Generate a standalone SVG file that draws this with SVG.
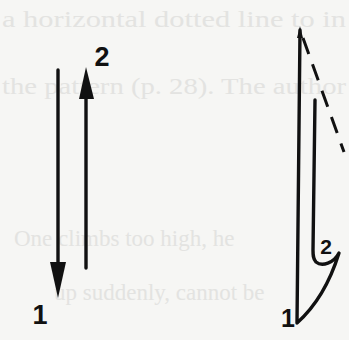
<svg xmlns="http://www.w3.org/2000/svg" width="349" height="340" viewBox="0 0 349 340">
  <style>
    .bg-text { font-family: "Liberation Serif", "Times New Roman", serif; font-size: 23px; fill: #e3e3e1; }
    .line { fill: none; stroke: #111; stroke-width: 3.4; stroke-linecap: round; stroke-linejoin: round; }
    .dash { fill: none; stroke: #111; stroke-width: 3; stroke-dasharray: 17 11; }
    .head { fill: #111; }
    .label { font-family: "Liberation Sans", Arial, sans-serif; font-weight: bold; fill: #111; }
  </style>
  <rect width="349" height="340" fill="#f6f6f4"/>
  <g id="background-text">
    <text class="bg-text" x="2" y="27" textLength="344" lengthAdjust="spacingAndGlyphs">a horizontal dotted line to in</text>
    <text class="bg-text" x="2" y="94" textLength="344" lengthAdjust="spacingAndGlyphs">the pattern (p. 28). The author</text>
    <text class="bg-text" x="14" y="246">One climbs too high, he</text>
    <text class="bg-text" x="54" y="300">up suddenly, cannot be</text>
  </g>
  <g id="connectors">
    <g id="arrow-1">
      <line class="line" x1="58" y1="70" x2="58" y2="266"/>
      <polygon class="head" points="50,262 66,262 58,298"/>
    </g>
    <g id="arrow-2">
      <line class="line" x1="86" y1="268" x2="86" y2="94"/>
      <polygon class="head" points="79,99 94,99 86,67"/>
    </g>
    <g id="hook-path">
      <path class="line" d="M300,30 L297,323 Q325,298 339,253 C334,263 322,267 316,262 C313,259 313,255 313,250 L315,100"/>
      <polygon class="head" points="300,26 297,38 303,38"/>
      <line class="dash" x1="303" y1="38" x2="344" y2="152"/>
    </g>
  </g>
  <g id="labels">
    <text class="label" x="102" y="66" font-size="27" text-anchor="middle">2</text>
    <text class="label" x="40" y="324" font-size="27" text-anchor="middle">1</text>
    <text class="label" x="326" y="254" font-size="21" text-anchor="middle">2</text>
    <text class="label" x="288" y="327" font-size="25" text-anchor="middle">1</text>
  </g>
</svg>
